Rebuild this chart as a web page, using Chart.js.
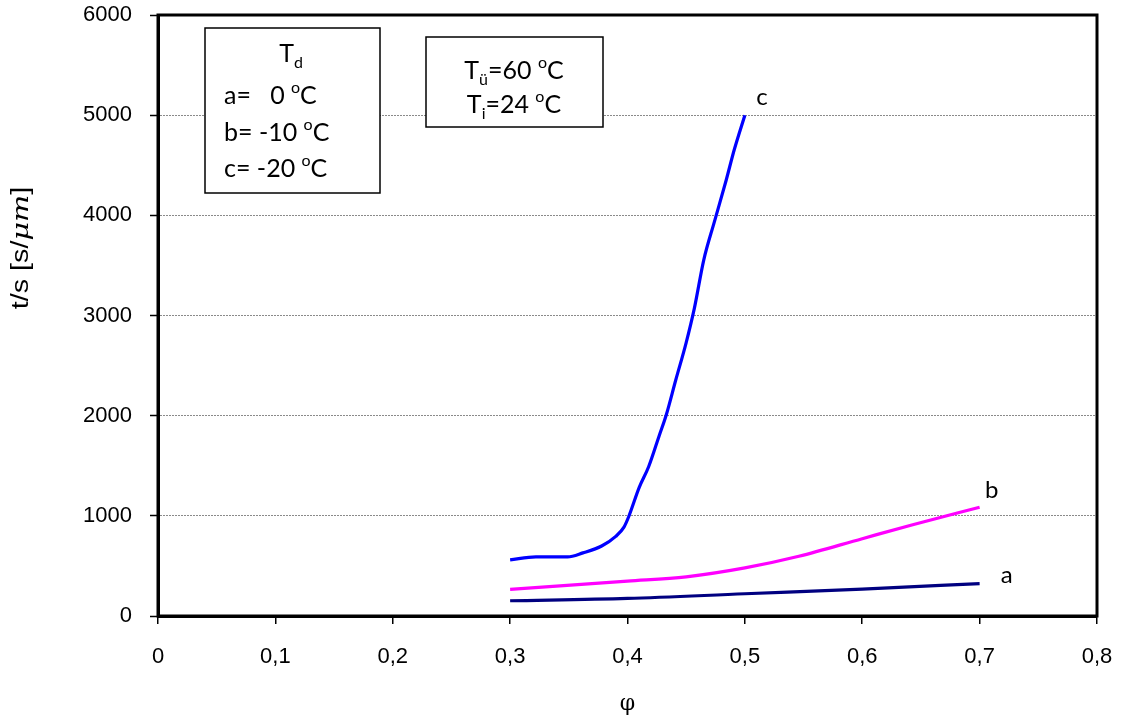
<!DOCTYPE html>
<html>
<head>
<meta charset="utf-8">
<script src="https://cdn.jsdelivr.net/npm/chart.js"></script>
<style>
  html, body { margin: 0; padding: 0; background: #fff; }
  #wrap { width: 1124px; height: 717px; }
</style>
</head>
<body>
<div id="wrap"><canvas id="chart" width="1124" height="717"></canvas></div>
<script>
// values
const phiA = [0.3, 0.4, 0.5, 0.6, 0.7];
const tA = [152, 175, 222, 268, 324];

const phiB = [0.3, 0.4, 0.45, 0.5, 0.546, 0.6, 0.643, 0.7];
const tB = [265, 348, 391, 480, 596, 772, 911, 1086];

const phiC = [0.3, 0.322, 0.349, 0.362, 0.378, 0.39, 0.397, 0.401, 0.41, 0.418, 0.427,
              0.433, 0.441, 0.45, 0.457, 0.465, 0.474, 0.484, 0.491, 0.5];
const tC = [560, 590, 590, 630, 699, 795, 888, 991, 1284, 1490, 1800,
            2007, 2351, 2730, 3074, 3556, 3935, 4348, 4657, 5000];

const xTicks = [0, 0.1, 0.2, 0.3, 0.4, 0.5, 0.6, 0.7, 0.8];
const yTicks = [0, 1000, 2000, 3000, 4000, 5000, 6000];

const toPoints = (xs, ys) => xs.map((x, i) => ({ x: x, y: ys[i] }));

const boxFont = 'Lato, "Open Sans", sans-serif';
const axisFont = '"Liberation Sans", Arial, sans-serif';

// draws a run of text pieces: [text, 'n' | 'sub' | 'sup']
function richText(ctx, parts, x, y, size, align) {
    const fontFor = k => (k === 'n' ? size : Math.round(size * 0.64)) + 'px ' + boxFont;
    let total = 0;
    parts.forEach(p => { ctx.font = fontFor(p[1]); total += ctx.measureText(p[0]).width; });
    let cx = align === 'center' ? x - total / 2 : x;
    ctx.textAlign = 'left';
    ctx.textBaseline = 'alphabetic';
    parts.forEach(p => {
        ctx.font = fontFor(p[1]);
        let dy = 0;
        if (p[1] === 'sub') dy = size * 0.22;
        if (p[1] === 'sup') dy = -size * 0.45;
        ctx.fillText(p[0], cx, y + dy);
        cx += ctx.measureText(p[0]).width;
    });
}

const decorations = {
    id: 'decorations',
    afterDraw(chart) {
        const ctx = chart.ctx;
        const a = chart.chartArea;
        const xs = chart.scales.x, ys = chart.scales.y;
        ctx.save();
        // frame
        ctx.strokeStyle = '#000';
        ctx.lineWidth = 3;
        ctx.strokeRect(a.left, a.top, a.right - a.left, a.bottom - a.top);

        // y title
        ctx.fillStyle = '#000';
        ctx.save();
        ctx.translate(22, 248);
        ctx.rotate(-Math.PI / 2);
        ctx.scale(1.25, 1);
        ctx.textBaseline = 'middle';
        const pieces = [['t/s [s/', '23px ' + axisFont],
                        ['\u03bcm', 'italic 23px "DejaVu Serif", serif'],
                        [']', '23px ' + axisFont]];
        let w = 0;
        pieces.forEach(p => { ctx.font = p[1]; w += ctx.measureText(p[0]).width; });
        let px = -w / 2;
        ctx.textAlign = 'left';
        pieces.forEach(p => { ctx.font = p[1]; ctx.fillText(p[0], px, 0); px += ctx.measureText(p[0]).width; });
        ctx.restore();

        // info boxes
        ctx.lineWidth = 1.5;
        ctx.fillStyle = '#fff';
        ctx.fillRect(205, 28, 175, 165);
        ctx.strokeRect(205, 28, 175, 165);
        ctx.fillRect(426, 37, 177, 90);
        ctx.strokeRect(426, 37, 177, 90);
        ctx.fillStyle = '#000';
        richText(ctx, [['T', 'n'], ['d', 'sub']], 291, 62, 25, 'center');
        richText(ctx, [['a=   0 ', 'n'], ['o', 'sup'], ['C', 'n']], 224, 104, 25, 'left');
        richText(ctx, [['b= -10 ', 'n'], ['o', 'sup'], ['C', 'n']], 224, 141, 25, 'left');
        richText(ctx, [['c= -20 ', 'n'], ['o', 'sup'], ['C', 'n']], 224, 177, 25, 'left');
        richText(ctx, [['T', 'n'], ['\u00fc', 'sub'], ['=60 ', 'n'], ['o', 'sup'], ['C', 'n']], 514, 79, 25, 'center');
        richText(ctx, [['T', 'n'], ['i', 'sub'], ['=24 ', 'n'], ['o', 'sup'], ['C', 'n']], 514, 113, 25, 'center');

        // curve labels next to last points
        ctx.font = '24px ' + boxFont;
        ctx.textAlign = 'center';
        ctx.textBaseline = 'middle';
        const lab = (t, x, y, dx, dy) => ctx.fillText(t, xs.getPixelForValue(x) + dx, ys.getPixelForValue(y) + dy);
        lab('c', phiC[phiC.length - 1], tC[tC.length - 1], 17, -18);
        lab('b', phiB[phiB.length - 1], tB[tB.length - 1], 12, -17);
        lab('a', phiA[phiA.length - 1], tA[tA.length - 1], 27, -8);
        ctx.restore();
    }
};

const lineSet = (pts, color) => ({
    data: pts,
    borderColor: color,
    borderWidth: 3.2,
    pointRadius: 0,
    fill: false,
    tension: 0.3,
    cubicInterpolationMode: 'monotone'
});

new Chart(document.getElementById('chart').getContext('2d'), {
    type: 'line',
    data: {
        datasets: [
            lineSet(toPoints(phiA, tA), '#000080'),
            lineSet(toPoints(phiB, tB), '#ff00ff'),
            lineSet(toPoints(phiC, tC), '#0000ff')
        ]
    },
    options: {
        responsive: false,
        animation: false,
        events: [],
        layout: { padding: { left: 0, right: 27, top: 15, bottom: 0 } },
        plugins: { legend: { display: false }, tooltip: { enabled: false } },
        scales: {
            x: {
                type: 'linear',
                min: 0, max: 0.8,
                afterBuildTicks: s => { s.ticks = xTicks.map(v => ({ value: v })); },
                afterFit: s => { s.height = 101; s.paddingLeft = 0; s.paddingRight = 0; },
                ticks: {
                    color: '#000',
                    font: { family: axisFont, size: 22 },
                    padding: 20,
                    maxRotation: 0,
                    callback: v => String(Math.round(v * 10) / 10).replace('.', ',')
                },
                grid: { display: true, drawOnChartArea: false, drawTicks: true, tickLength: 8, color: '#000', lineWidth: 1.5 },
                border: { display: true, color: '#000', width: 3 },
                title: {
                    display: true, text: '\u03c6', color: '#000',
                    font: { family: '"DejaVu Serif", serif', size: 22 },
                    padding: { top: 8, bottom: 0 }
                }
            },
            y: {
                min: 0, max: 6000,
                afterBuildTicks: s => { s.ticks = yTicks.map(v => ({ value: v })); },
                afterFit: s => { s.width = 158; s.paddingTop = 0; s.paddingBottom = 0; },
                ticks: {
                    color: '#000',
                    font: { family: axisFont, size: 22 },
                    padding: 18,
                    callback: v => String(v)
                },
                grid: {
                    color: '#8a8a8a', lineWidth: 1,
                    tickColor: '#000', tickLength: 8, tickWidth: 1.5
                },
                border: { display: true, color: '#000', width: 3, dash: [2, 1] }
            }
        }
    },
    plugins: [decorations]
});
</script>
</body>
</html>
